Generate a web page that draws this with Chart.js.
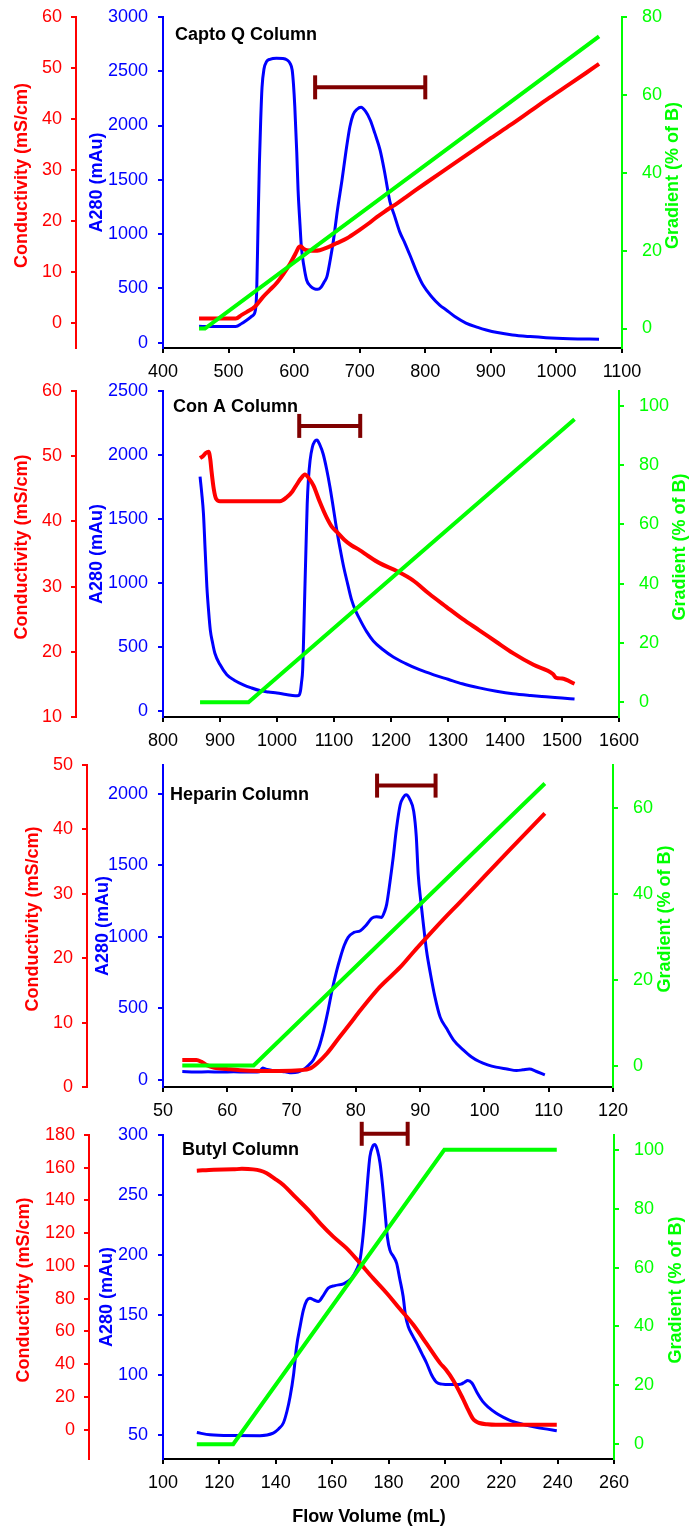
<!DOCTYPE html>
<html lang="en">
<head>
<meta charset="UTF-8">
<title>Column chromatograms</title>
<script src="https://cdn.jsdelivr.net/npm/chart.js"></script>
<style>
  body { margin: 0; background: #ffffff; }
  #page { position: relative; width: 692px; height: 1526px; }
  canvas { position: absolute; left: 0; }
</style>
</head>
<body>
<div id="page">
  <canvas id="captoChart" width="692" height="380" style="top:0px"></canvas>
  <canvas id="conaChart" width="692" height="374" style="top:375px"></canvas>
  <canvas id="heparinChart" width="692" height="370" style="top:749px"></canvas>
  <canvas id="butylChart" width="692" height="407" style="top:1119px"></canvas>
</div>
<script>
// --- Capto Q column (flow volume mL) ---
const captoBlueX = [455,470,490,511,520,528,536,541,543,545,547,549,551,554,558,563,573,583,589,594,597,599,601,604,606,609,611,615,619,625,631,636,641,646,650,655,660,666,673,679,685,690,696,702,709,716,723,731,738,746,753,761,769,777,787,797,810,822,832,845,862,880,893,910,933,960,984,1020,1065];
const captoBlueY = [150,148,148,148,175,208,245,300,500,1100,1650,2050,2350,2520,2590,2610,2620,2618,2605,2570,2512,2380,2174,1750,1406,1080,883,700,577,520,495,491,510,560,607,760,945,1220,1498,1760,1989,2100,2150,2168,2130,2051,1930,1775,1570,1300,1170,1020,915,800,650,525,420,345,300,240,180,140,116,92,70,55,45,36,30];
const captoRedX = [455,480,511,520,528,540,553,563,573,584,594,602,607,610,614,619,630,639,652,665,680,700,713,726,738,751,770,802,836,872,900,930,960,990,1020,1045,1065];
const captoRedY = [0.8,0.8,0.8,1.5,2.1,3.1,5.1,6.4,7.7,9.6,11.6,13.5,14.8,15.0,14.5,14.2,14.1,14.2,14.8,15.6,16.5,18.2,19.4,20.7,21.8,22.9,24.6,27.5,30.5,33.7,36.2,38.8,41.5,44.2,46.8,49.0,50.8];
const captoGreenX = [455,464,1065];
const captoGreenY = [0,0,75];
const captoPoolX = [632,800];
const captoPoolY = [2352,2352];

// --- Con A column ---
const conaBlueX = [865,868,871,874,877,880,883,887,891,900,912,925,941,955,970,985,1000,1016,1032,1038,1041,1043,1045,1047,1049,1051,1053,1055,1058,1062,1066,1070,1075,1081,1087,1093,1099,1105,1111,1117,1124,1131,1138,1146,1157,1169,1185,1204,1225,1250,1275,1300,1325,1355,1385,1414,1445,1472,1500,1522];
const conaBlueY = [1830,1700,1539,1250,967,780,630,530,449,360,280,238,202,178,157,146,137,126,116,118,149,220,318,620,967,1300,1617,1800,1955,2060,2105,2116,2080,2007,1890,1747,1580,1409,1260,1123,990,864,780,708,620,545,480,420,370,320,280,245,210,178,152,132,118,108,98,90];
const conaRedX = [865,870,875,880,883,885,889,893,900,950,1005,1017,1027,1035,1042,1049,1056,1064,1075,1087,1096,1105,1118,1131,1145,1160,1180,1210,1238,1267,1297,1326,1355,1385,1414,1450,1484,1490,1500,1522];
const conaRedY = [49.7,50.0,50.5,50.7,49.5,47.8,45.0,43.5,43.1,43.1,43.1,43.7,44.6,45.7,46.6,47.2,46.6,45.5,43.0,40.6,39.2,38.4,37.2,36.3,35.6,34.7,33.6,32.4,31.0,28.9,26.9,25.0,23.3,21.5,19.8,18.0,16.6,16.0,15.9,15.1];
const conaGreenX = [865,950,1522];
const conaGreenY = [0,0,95.5];
const conaPoolX = [1039,1146];
const conaPoolY = [2227,2227];

// --- Heparin column ---
const hepBlueX = [53,55,57,59,61,63,65,65.5,66,67,68,69,70,71,71.8,72.6,73.4,74.2,75,75.7,76.3,77,77.6,78.2,78.8,79.7,80.7,81.6,82.5,83.2,84,84.5,84.8,85.3,85.8,86.3,86.9,87.4,87.8,88.4,89,89.4,89.7,90.1,90.5,91,91.6,92.3,93.1,94.1,95.2,96.7,98,99.2,100.5,101.8,103.5,105,106,107,108,109.4];
const hepBlueY = [58,54,56,54,56,54,57,82,75,66,60,56,50,55,70,100,140,220,348,490,626,760,857,940,996,1030,1042,1080,1130,1140,1135,1180,1228,1380,1551,1750,1922,1975,1992,1960,1876,1700,1436,1250,1089,900,742,580,440,360,278,210,160,128,105,89,76,65,70,75,60,35];
const hepRedX = [53,55.2,56,56.8,58,59.9,62,65,68,71.3,72.9,74,75.5,77.5,79,80.7,83.7,86.9,89,91,93.5,96.1,100,104,109.4];
const hepRedY = [4.2,4.2,3.9,3.4,3.0,2.8,2.6,2.5,2.5,2.6,2.9,3.7,5.2,7.8,9.7,11.9,15.5,18.6,21.0,23.2,25.9,28.6,32.7,36.9,42.5];
const hepGreenX = [53,64.1,109.4];
const hepGreenY = [0,0,65.7];
const hepPoolX = [83.3,92.4];
const hepPoolY = [2056,2056];

// --- Butyl column ---
const butylBlueX = [112,116.7,125,134.4,139.1,141,142.7,144,145.1,146.3,147.4,148.6,149.8,151,152.1,153.6,155.1,156.8,158.6,161,164,165.5,166.9,168.5,169.9,170.8,171.7,172.6,173.4,174.3,175.2,176.1,177,177.9,178.8,179.6,180.5,181.7,182.9,184,185.2,186,187,188.5,190,191.8,193.5,195.3,197.1,199,201.8,204,205.7,207,208.1,209.6,211.5,213.4,215.5,218.1,221,224,227.5,231.1,235,239.7];
const butylBlueY = [52,50.2,49.5,49.4,51.6,55,60,70,82,100,124,140,154,162,164,162.5,161.2,166,172.4,174.5,176,178,180.7,187,196,212,235,262,282,290,292,287,276.5,258,235,215,204,199,193,180,165.4,150,140.4,133,126.6,118,110,100,93.8,92.4,92,92,92.4,94,95.4,93.3,85,78,73,68.3,64.5,61.3,59,57.1,55.3,53.6];
const butylRedX = [112,118,124.9,128,132,134.5,136.8,139.5,142.7,147,152.1,156,160.4,165,169.9,174.5,179.4,184,188.8,193.5,198.3,200.4,203,206.3,208,209.8,211,212.2,215,218.1,239.7];
const butylRedY = [158.2,158.8,159.0,159.3,159.0,158.2,156.6,153.5,149.5,142,133.2,125.5,117.9,111,101.7,92.5,83.3,73.8,64.0,52.5,40.6,36.5,30,19.2,13,7.0,5,4.0,3.2,2.9,2.9];
const butylGreenX = [112,124.9,199.8,239.7];
const butylGreenY = [0,0,100,100];
const butylPoolX = [170.5,186.8];
const butylPoolY = [301,301];

const FONT = "'Liberation Sans', Arial, Helvetica, sans-serif";
const RED = '#FF0000', BLUE = '#0000FF', GREEN = '#00FF00', MAROON = '#800000';
Chart.defaults.font.family = FONT;

function pts(xs, ys) {
  return xs.map((x, i) => ({ x: x, y: ys[i] }));
}

// ticks on whole multiples of step only, between the axis min and max
function stepTicks(step) {
  return function (scale) {
    const ticks = [];
    for (let v = Math.ceil(scale.min / step) * step; v <= scale.max + 1e-9; v += step) {
      ticks.push({ value: Math.round(v * 1000) / 1000 });
    }
    scale.ticks = ticks;
  };
}

function yAxis(color, position, weight, range, width, pad) {
  return {
    type: 'linear', position: position, weight: weight,
    min: range[0], max: range[1],
    ticks: { color: color, font: { size: 18 }, padding: pad, autoSkip: false,
      callback: v => String(v) },
    grid: { drawOnChartArea: false, color: color, lineWidth: 2, tickLength: 5 },
    border: { color: color, width: 2 },
    afterBuildTicks: stepTicks(range[2]),
    afterFit: s => { s.width = width; s.paddingTop = 0; s.paddingBottom = 0; }
  };
}

function textLayer(items) {
  return {
    id: 'textLayer',
    afterDraw(chart) {
      const ctx = chart.ctx;
      const a = chart.chartArea;
      const mid = (a.top + a.bottom) / 2;
      items.forEach(it => {
        ctx.save();
        ctx.font = 'bold 18px ' + FONT;
        ctx.fillStyle = it.color;
        ctx.textAlign = it.align || 'center';
        ctx.textBaseline = 'middle';
        ctx.translate(it.x, it.y != null ? it.y : mid - 7);
        if (it.vertical) ctx.rotate(-Math.PI / 2);
        ctx.fillText(it.text, 0, 0);
        ctx.restore();
      });
    }
  };
}

function drawPanel(p) {
  const texts = [
    { text: p.name, x: p.nameX, y: p.nameY, color: '#000000', align: 'left' },
    { text: 'Conductivity (mS/cm)', x: p.redTitleX, color: RED, vertical: true },
    { text: 'Gradient (% of B)', x: p.greenTitleX, color: GREEN, vertical: true }
  ];
  if (p.xTitle) texts.push({ text: p.xTitle, x: 369, y: p.xTitleY, color: '#000000' });

  const blue = yAxis(BLUE, 'left', 1, p.blueRange, p.blueW, 10);
  blue.title = { display: true, text: 'A280 (mAu)', color: BLUE,
    font: { size: 18, weight: 'bold' }, padding: { top: p.bluePad, bottom: 0 } };

  new Chart(document.getElementById(p.id), {
    type: 'line',
    data: {
      datasets: [
        { data: pts(p.pool[0], p.pool[1]), yAxisID: 'yB', borderColor: MAROON, borderWidth: 4,
          pointStyle: 'line', pointRotation: 90, pointRadius: 12,
          pointBorderColor: MAROON, pointBorderWidth: 4, clip: false },
        { data: pts(p.green[0], p.green[1]), yAxisID: 'yG', borderColor: GREEN,
          borderWidth: 4, pointRadius: 0 },
        { data: pts(p.red[0], p.red[1]), yAxisID: 'yR', borderColor: RED,
          borderWidth: 4, pointRadius: 0, cubicInterpolationMode: 'monotone' },
        { data: pts(p.blue[0], p.blue[1]), yAxisID: 'yB', borderColor: BLUE,
          borderWidth: 3, pointRadius: 0, cubicInterpolationMode: 'monotone' }
      ]
    },
    options: {
      responsive: false,
      animation: false,
      events: [],
      layout: { padding: { top: p.top, left: 0, right: 0, bottom: 0 } },
      plugins: { legend: { display: false }, tooltip: { enabled: false } },
      scales: {
        x: {
          type: 'linear', position: 'bottom',
          min: p.xRange[0], max: p.xRange[1],
          ticks: { color: '#000000', font: { size: 18 }, padding: 8,
            maxRotation: 0, autoSkip: false, callback: v => String(v) },
          grid: { drawOnChartArea: false, color: '#000000', lineWidth: 2, tickLength: 5 },
          border: { color: '#000000', width: 2 },
          afterBuildTicks: stepTicks(p.xRange[2]),
          afterFit: s => { s.height = p.xH; s.paddingLeft = 0; s.paddingRight = 0; }
        },
        yR: yAxis(RED, 'left', 2, p.redRange, p.redW, 9),
        yB: blue,
        yG: yAxis(GREEN, 'right', 1, p.greenRange, p.greenW, 15)
      }
    },
    plugins: [textLayer(texts)]
  });
}

drawPanel({
  id: 'captoChart', name: 'Capto Q Column', nameX: 175, nameY: 35,
  xRange: [400, 1100, 100], redRange: [-5, 60, 10], blueRange: [-50, 3000, 500], greenRange: [-5, 80, 20],
  redW: 76, blueW: 87, greenW: 70, top: 17, xH: 32,
  redTitleX: 22.5, bluePad: 10, greenTitleX: 673,
  blue: [captoBlueX, captoBlueY], red: [captoRedX, captoRedY], green: [captoGreenX, captoGreenY],
  pool: [captoPoolX, captoPoolY]
});

drawPanel({
  id: 'conaChart', name: 'Con A Column', nameX: 173, nameY: 32,
  xRange: [800, 1600, 100], redRange: [10, 60, 10], blueRange: [-50, 2500, 500], greenRange: [-5, 105, 20],
  redW: 76, blueW: 87, greenW: 73, top: 15, xH: 32,
  redTitleX: 22, bluePad: 10, greenTitleX: 680,
  blue: [conaBlueX, conaBlueY], red: [conaRedX, conaRedY], green: [conaGreenX, conaGreenY],
  pool: [conaPoolX, conaPoolY]
});

drawPanel({
  id: 'heparinChart', name: 'Heparin Column', nameX: 170, nameY: 46,
  xRange: [50, 120, 10], redRange: [0, 50, 10], blueRange: [-50, 2200, 500], greenRange: [-5, 70, 20],
  redW: 87, blueW: 76, greenW: 79, top: 14.3, xH: 32,
  redTitleX: 33, bluePad: 5, greenTitleX: 665,
  blue: [hepBlueX, hepBlueY], red: [hepRedX, hepRedY], green: [hepGreenX, hepGreenY],
  pool: [hepPoolX, hepPoolY]
});

drawPanel({
  id: 'butylChart', name: 'Butyl Column', nameX: 182, nameY: 31,
  xRange: [100, 260, 20], redRange: [-18, 180, 20], blueRange: [30, 300, 50], greenRange: [-5, 105, 20],
  redW: 89, blueW: 74, greenW: 78, top: 16, xH: 67,
  redTitleX: 24, bluePad: 7, greenTitleX: 676,
  xTitle: 'Flow Volume (mL)', xTitleY: 398,
  blue: [butylBlueX, butylBlueY], red: [butylRedX, butylRedY], green: [butylGreenX, butylGreenY],
  pool: [butylPoolX, butylPoolY]
});
</script>
</body>
</html>
